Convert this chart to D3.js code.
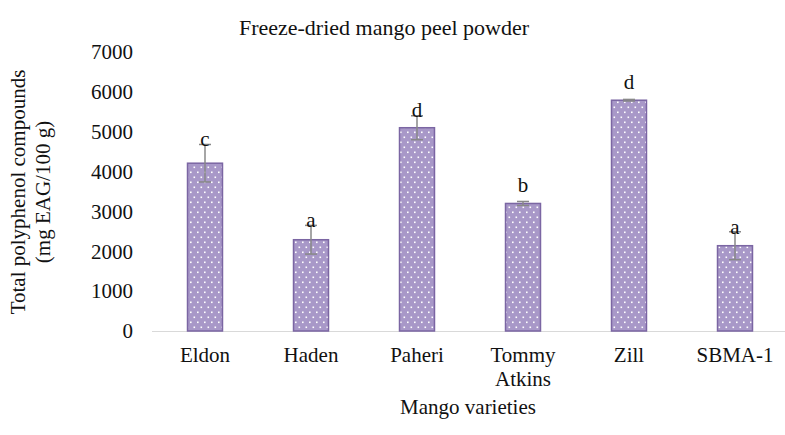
<!DOCTYPE html>
<html><head><meta charset="utf-8">
<script src="https://cdn.jsdelivr.net/npm/d3@7"></script>
<style>body{margin:0;background:#fff}svg{display:block}text{font-family:"Liberation Serif","Times New Roman",serif;fill:#111}</style>
</head><body>
<svg id="c" width="785" height="435"></svg>
<script>
const categories = ["Eldon","Haden","Paheri","Tommy Atkins","Zill","SBMA-1"];
const values = [4210, 2290, 5100, 3200, 5790, 2140];
const errors = [470, 360, 300, 50, 20, 350];
const letters = ["c","a","d","b","d","a"];
const yTicks = [0,1000,2000,3000,4000,5000,6000,7000];

const svg = d3.select("#c");
const m = {l:152, r:788, t:52, b:331};
const x = d3.scaleBand().domain(categories).range([m.l, m.r]).paddingInner(0.67).paddingOuter(0.335);
const y = d3.scaleLinear().domain([0,7000]).range([m.b, m.t]);

const defs = svg.append("defs");
const pat = defs.append("pattern").attr("id","dots").attr("patternUnits","userSpaceOnUse")
  .attr("width",7).attr("height",10);
pat.append("rect").attr("width",7).attr("height",10).attr("fill","#a898c8");
pat.append("rect").attr("x",1).attr("y",1.5).attr("width",1.6).attr("height",1.6).attr("fill","#fff");
pat.append("rect").attr("x",4.5).attr("y",6.5).attr("width",1.6).attr("height",1.6).attr("fill","#fff");

// title
svg.append("text").attr("x",384).attr("y",35).attr("text-anchor","middle").attr("font-size",22).text("Freeze-dried mango peel powder");

// y axis labels
const ya = svg.append("g").attr("transform",`translate(133,0)`)
  .call(d3.axisLeft(y).tickValues(yTicks).tickSize(0).tickPadding(0).tickFormat(d3.format("d")));
ya.select(".domain").remove();
ya.selectAll("text").attr("font-size",21).attr("font-family","Liberation Serif").attr("fill","#111");

// x axis baseline
svg.append("line").attr("x1",m.l).attr("x2",m.r).attr("y1",y(0)+0.5).attr("y2",y(0)+0.5).attr("stroke","#d9d9d9").attr("stroke-width",1.2);

// bars
const bw = x.bandwidth();
svg.selectAll(".bar").data(categories).join("rect").attr("class","bar")
  .attr("x",d=>x(d)).attr("y",(d,i)=>y(values[i])).attr("width",bw).attr("height",(d,i)=>y(0)-y(values[i]))
  .attr("fill","url(#dots)").attr("stroke","#7b66a3").attr("stroke-width",1.5);

// error bars
const eg = svg.append("g").attr("stroke","#888").attr("stroke-width",1.5);
categories.forEach((c,i)=>{
  const cx = x(c)+bw/2;
  const hi = y(values[i]+errors[i]), lo = y(values[i]-errors[i]);
  eg.append("line").attr("x1",cx).attr("x2",cx).attr("y1",hi).attr("y2",lo);
  eg.append("line").attr("x1",cx-6).attr("x2",cx+6).attr("y1",hi).attr("y2",hi);
  eg.append("line").attr("x1",cx-6).attr("x2",cx+6).attr("y1",lo).attr("y2",lo);
  const by = Math.min(hi+2, y(values[i])-11);
  svg.append("text").attr("x",cx).attr("y",by).attr("text-anchor","middle").attr("font-size",21).text(letters[i]);
});

// category labels
categories.forEach(c=>{
  const cx = x(c)+bw/2;
  const parts = c==="Tommy Atkins" ? ["Tommy","Atkins"] : [c];
  parts.forEach((p,j)=>{
    svg.append("text").attr("x",cx).attr("y",362+j*24).attr("text-anchor","middle").attr("font-size",21).text(p);
  });
});

// axis titles
svg.append("text").attr("x",468).attr("y",414).attr("text-anchor","middle").attr("font-size",21).text("Mango varieties");
const yt = svg.append("text").attr("transform","translate(25,192) rotate(-90)").attr("text-anchor","middle").attr("font-size",21);
yt.append("tspan").attr("x",0).attr("dy",0).text("Total polyphenol compounds");
yt.append("tspan").attr("x",0).attr("dy",25).text("(mg EAG/100 g)");
</script>
</body></html>
